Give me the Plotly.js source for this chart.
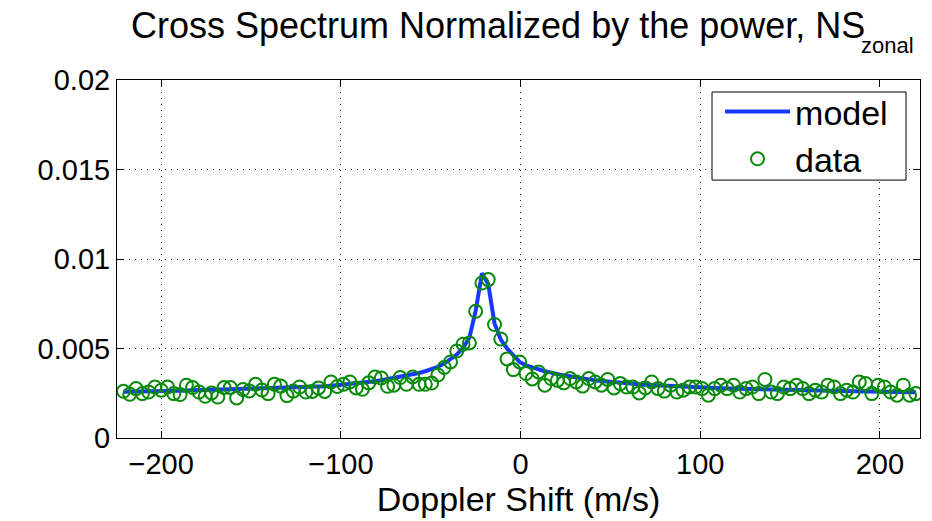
<!DOCTYPE html>
<html>
<head>
<meta charset="utf-8">
<script src="https://cdn.plot.ly/plotly-3.0.1.min.js"></script>
<style>html,body{margin:0;padding:0;background:#fff;}#chart{width:932px;height:521px;}</style>
</head>
<body>
<div id="chart"></div>
<script>
// Doppler shift (m/s)
const dopplerShift = [-221,-217.5,-214,-210.5,-207,-203.5,-200,-196.5,-193,-189.5,-186,-182.5,-179,-175.5,-172,-168.5,-165,-161.5,-158,-154.5,-151,-147.5,-144,-140.5,-137,-133.5,-130,-126.5,-123,-119.5,-116,-112.5,-109,-105.5,-102,-98.5,-95,-91.5,-88,-84.5,-81,-77.5,-74,-70.5,-67,-63.5,-60,-56.5,-53,-49.5,-46,-42.5,-39,-35.5,-32,-28.5,-25,-21.5,-18,-14.5,-11,-7.5,-4,-0.5,3,6.5,10,13.5,17,20.5,24,27.5,31,34.5,38,41.5,45,48.5,52,55.5,59,62.5,66,69.5,73,76.5,80,83.5,87,90.5,94,97.5,101,104.5,108,111.5,115,118.5,122,125.5,129,132.5,136,139.5,143,146.5,150,153.5,157,160.5,164,167.5,171,174.5,178,181.5,185,188.5,192,195.5,199,202.5,206,209.5,213,216.5,220];

// measured data
const dataValues = [0.00261,0.00244,0.00276,0.00248,0.00257,0.00285,0.00267,0.00285,0.00248,0.00243,0.00295,0.00282,0.00257,0.00233,0.00252,0.00229,0.00282,0.00282,0.00224,0.00271,0.00263,0.0030,0.00268,0.00248,0.0030,0.0029,0.00237,0.00262,0.00285,0.00257,0.0026,0.0028,0.0026,0.00313,0.00288,0.0030,0.00313,0.0028,0.00272,0.00308,0.00341,0.00335,0.00289,0.00295,0.00338,0.0030,0.00341,0.0030,0.0030,0.00307,0.00352,0.00394,0.00425,0.00486,0.00524,0.00531,0.00708,0.00866,0.00885,0.00634,0.00553,0.00442,0.00382,0.00425,0.0036,0.0033,0.00369,0.00295,0.00332,0.00322,0.00308,0.00332,0.00313,0.0029,0.00332,0.00313,0.00295,0.00327,0.0028,0.00304,0.00285,0.00285,0.00252,0.0028,0.00313,0.00276,0.00262,0.00295,0.00257,0.00267,0.00285,0.00285,0.00276,0.00239,0.00276,0.00295,0.00276,0.00295,0.00257,0.00276,0.00285,0.00248,0.00327,0.00257,0.00248,0.00285,0.00276,0.00295,0.00276,0.00248,0.00267,0.00257,0.00295,0.00285,0.00248,0.00267,0.00257,0.00313,0.00304,0.00248,0.00295,0.00285,0.00257,0.00239,0.00295,0.00239,0.00248];

// model curve
const modelValues = [0.00259,0.00259,0.0026,0.0026,0.00261,0.00262,0.00262,0.00263,0.00264,0.00264,0.00265,0.00266,0.00266,0.00267,0.00268,0.00268,0.00269,0.0027,0.00271,0.00271,0.00272,0.00273,0.00274,0.00275,0.00276,0.00277,0.00279,0.0028,0.00282,0.00283,0.00285,0.00287,0.00289,0.00292,0.00295,0.00298,0.00301,0.00304,0.00308,0.00312,0.00317,0.00323,0.00329,0.00335,0.00341,0.00347,0.00354,0.00363,0.00373,0.00384,0.00398,0.00416,0.00438,0.00466,0.00502,0.0056,0.0071,0.0092,0.0086,0.0064,0.0055,0.005,0.00462,0.00425,0.00406,0.00393,0.00382,0.00373,0.00365,0.00356,0.0035,0.00345,0.00338,0.00334,0.00328,0.00322,0.00319,0.00315,0.00312,0.00309,0.00306,0.00303,0.003,0.00297,0.00295,0.00293,0.00291,0.00289,0.00287,0.00285,0.00284,0.00282,0.00281,0.0028,0.00279,0.00278,0.00277,0.00276,0.00275,0.00274,0.00273,0.00272,0.00271,0.0027,0.00269,0.00268,0.00268,0.00267,0.00266,0.00265,0.00265,0.00264,0.00263,0.00263,0.00262,0.00262,0.00261,0.00261,0.0026,0.0026,0.00259,0.00259,0.00258,0.00258,0.00257,0.00257,0.00256];

const xTickVals = [-200,-100,0,100,200];
const xTickText = ['\u2212200','\u2212100','0','100','200'];
const yTickVals = [0,0.005,0.01,0.015,0.02];
const yTickText = ['0','0.005','0.01','0.015','0.02'];

const FONT = 'Liberation Sans, Arial, Helvetica, sans-serif';

const traces = [
  {x: dopplerShift, y: modelValues, type: 'scatter', mode: 'lines', name: 'model',
   line: {color: '#1638ff', width: 4}},
  {x: dopplerShift, y: dataValues, type: 'scatter', mode: 'markers', name: 'data',
   marker: {symbol: 'circle-open', size: 13, color: '#098a09', line: {color: '#098a09', width: 2}}}
];

const axisCommon = {
  showline: true, linecolor: '#000', linewidth: 1, mirror: 'ticks',
  ticks: 'inside', ticklen: 7, tickwidth: 1, tickcolor: '#000',
  showgrid: true, gridcolor: '#222', gridwidth: 1, griddash: '1px,5px',
  zeroline: false, tickfont: {family: FONT, size: 29, color: '#000'}
};

const layout = {
  width: 932, height: 521,
  margin: {l: 117, r: 12, t: 80, b: 83},
  paper_bgcolor: '#fff', plot_bgcolor: '#fff',
  font: {family: FONT, color: '#000'},
  title: {text: 'Cross Spectrum Normalized by the power, NS',
          font: {family: FONT, size: 36, color: '#000'},
          x: 131 / 932, xref: 'container', xanchor: 'left', y: 0.951, yref: 'container', yanchor: 'middle'},
  annotations: [{text: 'zonal', xref: 'paper', yref: 'paper', x: 0.9245, y: 1.095,
                 xanchor: 'left', yanchor: 'middle', showarrow: false,
                 font: {family: FONT, size: 22, color: '#000'}}],
  shapes: [{type: 'rect', xref: 'paper', yref: 'paper', x0: 0.741, x1: 0.9826, y0: 0.7204, y1: 0.9665,
            line: {color: '#000', width: 1}, fillcolor: '#fff', layer: 'above'}],
  xaxis: Object.assign({}, axisCommon, {
    range: [-224.6, 222.3], tickmode: 'array', tickvals: xTickVals, ticktext: xTickText,
    title: {text: 'Doppler Shift (m/s)', font: {family: FONT, size: 34, color: '#000'}, standoff: 4}
  }),
  yaxis: Object.assign({}, axisCommon, {
    range: [0, 0.02], tickmode: 'array', tickvals: yTickVals, ticktext: yTickText
  }),
  legend: {x: 0.751, y: 0.9916, xanchor: 'left', yanchor: 'top',
           bgcolor: 'rgba(0,0,0,0)', borderwidth: 0,
           font: {family: FONT, size: 34, color: '#000'}, itemwidth: 65, tracegroupgap: 0},
  showlegend: true
};

Plotly.newPlot('chart', traces, layout, {displayModeBar: false, staticPlot: true});
</script>
</body>
</html>
